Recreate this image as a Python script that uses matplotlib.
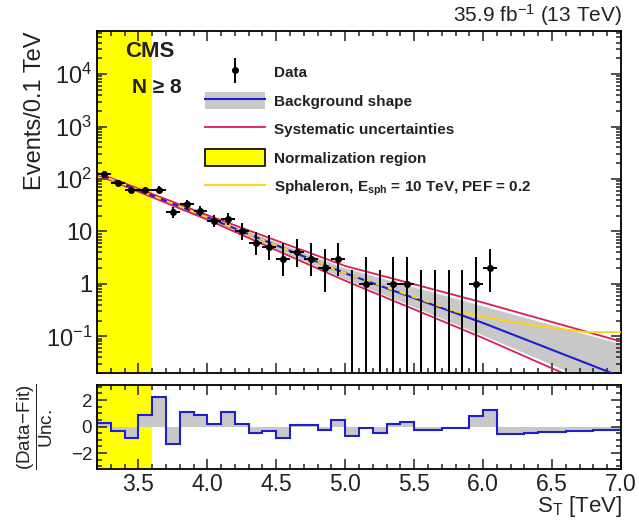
import numpy as np
import matplotlib.pyplot as plt
from matplotlib.lines import Line2D
from matplotlib.patches import Patch
from matplotlib.ticker import FixedLocator, MultipleLocator, NullFormatter, FixedFormatter

plt.rcParams['font.family'] = ['Liberation Sans', 'DejaVu Sans']
plt.rcParams['mathtext.fontset'] = 'custom'
plt.rcParams['mathtext.rm'] = 'Liberation Sans'
plt.rcParams['mathtext.it'] = 'Liberation Sans'
plt.rcParams['mathtext.bf'] = 'Liberation Sans:bold'

# data: events per 0.1 TeV bin, bins start at 3.2 TeV
bin_width = 0.1
data_x = np.round(np.arange(3.25, 6.1, bin_width), 2)
data_y = [126, 85, 61, 61, 63, 23, 33, 25, 16, 17, 10, 6, 5, 3, 4, 3, 2, 3,
          0, 1, 0, 1, 1, 0, 0, 0, 0, 1, 2]
err_lo = [11, 9, 8, 8, 8, 4.7, 5.7, 4.9, 4, 4, 3.1, 2.4, 2.2, 1.6, 1.9, 1.6, 1.3, 1.6,
          0, 1, 0, 1, 1, 0, 0, 0, 0, 1, 1.3]
err_hi = [12, 10, 9, 9, 9, 5.8, 6.8, 6, 5, 5.2, 4.3, 3.6, 3.4, 2.9, 3.2, 2.9, 2.6, 2.9,
          1.84, 2.3, 1.84, 2.3, 2.3, 1.84, 1.84, 1.84, 1.84, 2.3, 2.6]

# background fit and uncertainties
fit_x = [3.2, 4.0, 5.0, 6.0, 7.0]
fit_y = [126, 18.6, 1.6, 0.18, 0.017]
band_up = [130, 19.8, 2.0, 0.38, 0.072]
band_dn = [122, 17.4, 1.25, 0.105, 0.008]
sys_up = [132, 20.5, 2.2, 0.44, 0.080]
sys_dn = [120, 16.8, 1.15, 0.093, 0.0065]

# sphaleron signal + background
sph_x = [3.2, 4.0, 5.0, 5.8, 6.2, 6.5, 6.75, 7.0]
sph_y = [126, 18.6, 1.6, 0.30, 0.19, 0.145, 0.12, 0.12]

# (Data-Fit)/Unc. per bin, 3.2 - 7.0
pull = [0.24, -0.36, -0.83, 0.90, 2.25, -1.30, 1.11, 0.90, 0.19, 1.11,
        0.19, -0.47, -0.36, -0.83, 0.12, 0.12, -0.28, 0.52, -0.71, -0.12,
        -0.47, 0.19, 0.33, -0.24, -0.24, -0.12, -0.12, 0.78, 1.23, -0.59,
        -0.59, -0.47, -0.43, -0.43, -0.36, -0.36, -0.24, -0.24]
pull_edges = np.round(np.arange(3.2, 7.05, bin_width), 2)

norm_region = (3.2, 3.6)

c_blue = '#1f1fd0'
c_red = '#dc1e50'
c_gray = '#c8c8c8'
c_yel = '#ffd21e'
c_norm = '#ffff00'

fig = plt.figure(figsize=(6.39, 5.22), dpi=100)
ax = fig.add_axes([0.1518, 0.2854, 0.820, 0.655])
rx = fig.add_axes([0.1518, 0.1015, 0.820, 0.160])

# main panel
ax.axvspan(*norm_region, color=c_norm, lw=0, zorder=0)
ax.fill_between(fit_x, band_dn, band_up, color=c_gray, lw=0, zorder=1)
ax.plot(fit_x, sys_up, color=c_red, lw=1.3, zorder=2)
ax.plot(fit_x, sys_dn, color=c_red, lw=1.3, zorder=2)
ax.plot(fit_x, fit_y, color=c_blue, lw=1.5, zorder=3)
ax.plot(sph_x[:4], sph_y[:4], color=c_yel, lw=1.5, ls=(0, (3, 3)), zorder=4)
ax.plot(sph_x[3:], sph_y[3:], color=c_yel, lw=1.5, zorder=4)
ax.errorbar(data_x, data_y, xerr=bin_width / 2, yerr=[err_lo, err_hi], fmt='o',
            color='black', ms=4, elinewidth=1.4, capsize=0, zorder=5)

ax.set_yscale('log')
ax.set_xlim(3.2, 7.0)
ax.set_ylim(0.02, 6.6e4)
ax.yaxis.set_major_locator(FixedLocator([0.1, 1, 10, 100, 1000, 10000]))
ax.yaxis.set_major_formatter(FixedFormatter(['10$^{-1}$', '1', '10', '10$^{2}$', '10$^{3}$', '10$^{4}$']))
ax.yaxis.set_minor_formatter(NullFormatter())
ax.xaxis.set_major_locator(MultipleLocator(0.5))
ax.xaxis.set_minor_locator(MultipleLocator(0.1))
ax.tick_params(axis='x', labelbottom=False)

# ratio panel
rx.axvspan(*norm_region, color=c_norm, lw=0, zorder=0)
rx.stairs(pull, pull_edges, baseline=0, fill=True, color=c_gray, lw=0, zorder=1)
rx.stairs(pull, pull_edges, baseline=None, color=c_blue, lw=1.5, zorder=2)
rx.set_xlim(3.2, 7.0)
rx.set_ylim(-3.2, 3.1)
rx.yaxis.set_major_locator(FixedLocator([-2, 0, 2]))
rx.yaxis.set_major_formatter(FixedFormatter(['\u22122', '0', '2']))
rx.yaxis.set_minor_locator(MultipleLocator(0.5))
rx.xaxis.set_minor_locator(MultipleLocator(0.1))
rx.set_xticks([3.5, 4.0, 4.5, 5.0, 5.5, 6.0, 6.5, 7.0])
rx.set_xticklabels(['3.5', '4.0', '4.5', '5.0', '5.5', '6.0', '6.5', '7.0'])

for a in (ax, rx):
    for s in a.spines.values():
        s.set_linewidth(1.3)
    a.tick_params(which='both', direction='in', top=True, right=True, width=1.1, labelsize=17, colors='#222222')
    a.tick_params(which='major', length=7)
    a.tick_params(which='minor', length=3.5)
rx.tick_params(axis='x', pad=3, labelsize=16.5)
rx.tick_params(axis='y', labelsize=13.5)

# texts
ax.text(0.101, 0.939, 'CMS', transform=ax.transAxes, ha='center', va='center',
        fontsize=16, fontweight='bold', color='#222222')
ax.text(0.114, 0.836, 'N \u2265 8', transform=ax.transAxes, ha='center', va='center',
        fontsize=15, fontweight='bold', color='#222222')
fig.text(0.973, 0.972, '35.9 fb$^{-1}$ (13 TeV)', ha='right', va='center', fontsize=15, color='#222222')
fig.text(0.055, 0.94, 'Events/0.1 TeV', rotation=90, ha='center', va='top', fontsize=17, color='#222222')
fig.text(0.973, 0.006, 'S$_{\\mathregular{T}}$ [TeV]', ha='right', va='bottom', fontsize=16, color='#222222')
fig.text(0.055, 0.182, r'$\dfrac{\mathrm{(Data\!-\!Fit)}}{\mathrm{Unc.}}$', rotation=90,
         ha='center', va='center', fontsize=13.5, color='#222222')

# legend
h_data = (Line2D([], [], marker='|', ms=18, mew=1.4, color='black', ls='none'),
          Line2D([], [], marker='o', ms=4, color='black', ls='none'))
h_bkg = (Patch(facecolor=c_gray, edgecolor='none'), Line2D([], [], color=c_blue, lw=1.5))
h_sys = Line2D([], [], color=c_red, lw=1.3)
h_norm = Patch(facecolor=c_norm, edgecolor='black', lw=1.2)
h_sph = Line2D([], [], color=c_yel, lw=1.5)
labels = ['Data', 'Background shape', 'Systematic uncertainties', 'Normalization region',
          'Sphaleron, E$_{\\mathregular{sph}}$ = 10 TeV, PEF = 0.2']
leg = ax.legend([h_data, h_bkg, h_sys, h_norm, h_sph], labels, loc='upper left',
                bbox_to_anchor=(0.206, 0.905), frameon=False, borderpad=0, borderaxespad=0,
                handlelength=3.9, handleheight=1.3, handletextpad=0.65, labelspacing=0.78,
                prop={'weight': 'bold', 'size': 11})
for t in leg.get_texts():
    t.set_color('#222222')

fig.savefig('out.png', dpi=100)
